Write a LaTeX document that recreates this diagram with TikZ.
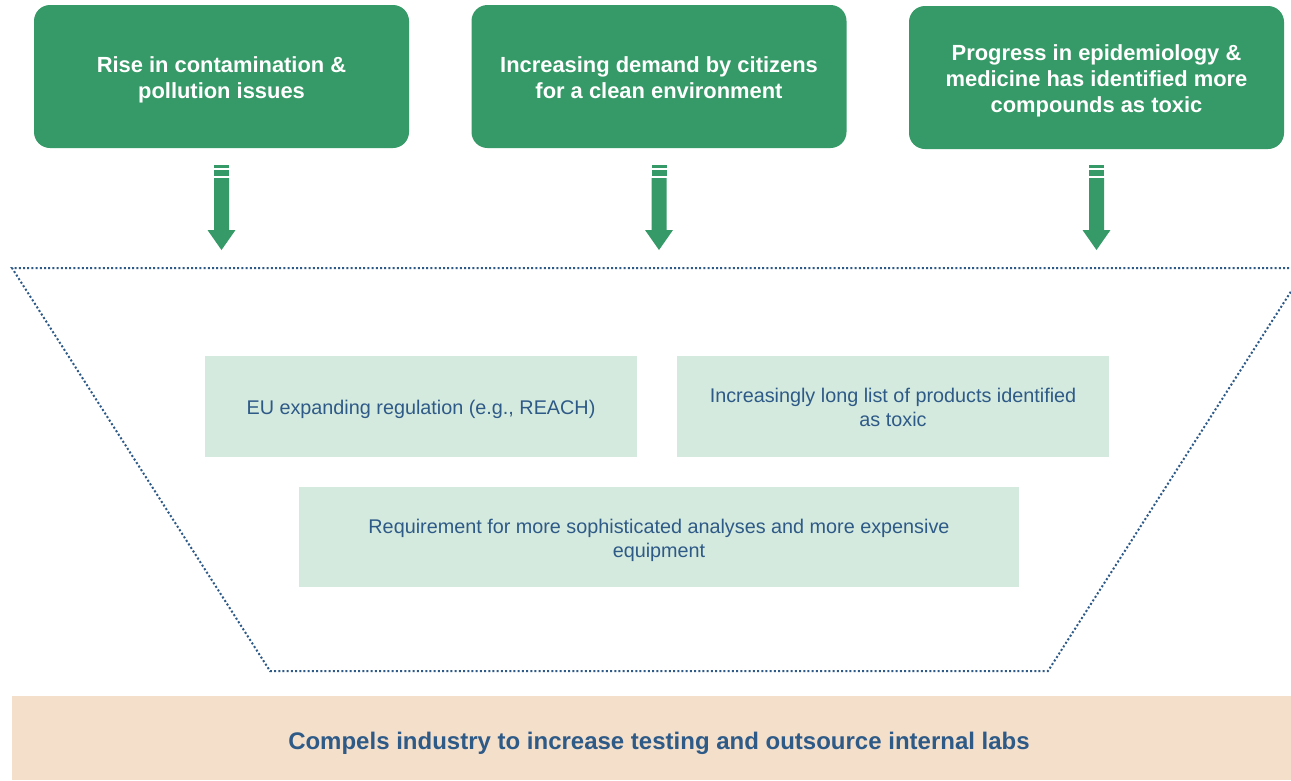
\documentclass[tikz,border=0pt]{standalone}
\usepackage{fontspec}
\setmainfont{Liberation Sans}
\definecolor{topgreen}{HTML}{359A67}
\definecolor{lightgreen}{HTML}{D5EADE}
\definecolor{peach}{HTML}{F4DFCB}
\definecolor{navy}{HTML}{2E5A87}
\begin{document}
\begin{tikzpicture}[x=1pt,y=-1pt,
  topbox/.style={fill=topgreen,rounded corners=16pt,minimum width=375pt,minimum height=143pt,inner sep=0pt},
  toptext/.style={text=white,font=\fontsize{21.9}{26}\selectfont\bfseries,align=center},
  midbox/.style={fill=lightgreen,minimum width=432pt,minimum height=101pt,inner sep=0pt},
  midtext/.style={text=navy,font=\fontsize{19.8}{24}\selectfont,align=center},
  funnel/.style={navy,line width=2pt,dash pattern=on 2pt off 2.2pt},
  blockarrow/.style={fill=topgreen,draw=none}]
\useasboundingbox (0,0) rectangle (1291,780);
\fill[white] (0,0) rectangle (1291,780);
% top boxes
\node[topbox] (t1) at (221.5,76.5) {};
\node[toptext] (t1l) at ([yshift=-3.5pt]t1.center) {Rise in contamination \&\\pollution issues};
\node[topbox] (t2) at (659,76.5) {};
\node[toptext] (t2l) at ([yshift=-1.5pt]t2.center) {Increasing demand by citizens\\for a clean environment};
\node[topbox] (t3) at (1096.5,77.5) {};
\node[toptext] (t3l) at ([yshift=-3pt]t3.center) {Progress in epidemiology \&\\medicine has identified more\\compounds as toxic};
% block arrows
\foreach \c in {221.5,659,1096.5}{
  \fill[blockarrow] (\c-7.5,165) rectangle (\c+7.5,167.7);
  \fill[blockarrow] (\c-7.5,170) rectangle (\c+7.5,176);
  \fill[blockarrow] (\c-7.5,178) -- (\c+7.5,178) -- (\c+7.5,230) -- (\c+14,230)
     -- (\c,250) -- (\c-14,230) -- (\c-7.5,230) -- cycle;
}
% funnel
\coordinate (ftl) at (12,268);
\coordinate (ftr) at (1306,268);
\coordinate (fbl) at (270,671);
\coordinate (fbr) at (1048,671);
\begin{scope}
\clip (0,0) rectangle (1291,780);
\draw[funnel] (ftr) -- (ftl) -- (fbl) -- (fbr) -- (ftr);
\end{scope}
% middle boxes
\node[midbox] (m1) at (421,406.5) {};
\node[midtext] (m1l) at ([yshift=-3pt]m1.center) {EU expanding regulation (e.g., REACH)};
\node[midbox] (m2) at (893,406.5) {};
\node[midtext] (m2l) at ([yshift=-1pt]m2.center) {Increasingly long list of products identified\\as toxic};
\node[midbox,minimum width=720pt,minimum height=100pt] (m3) at (659,537) {};
\node[midtext] (m3l) at ([yshift=-3pt]m3.center) {Requirement for more sophisticated analyses and more expensive\\equipment};
% bottom bar
\node[fill=peach,minimum width=1279pt,minimum height=84pt,inner sep=0pt] (b) at (651.5,738) {};
\node[text=navy,font=\fontsize{24}{28}\selectfont\bfseries] (bl) at (659,743)
  {Compels industry to increase testing and outsource internal labs};
\end{tikzpicture}
\end{document}
